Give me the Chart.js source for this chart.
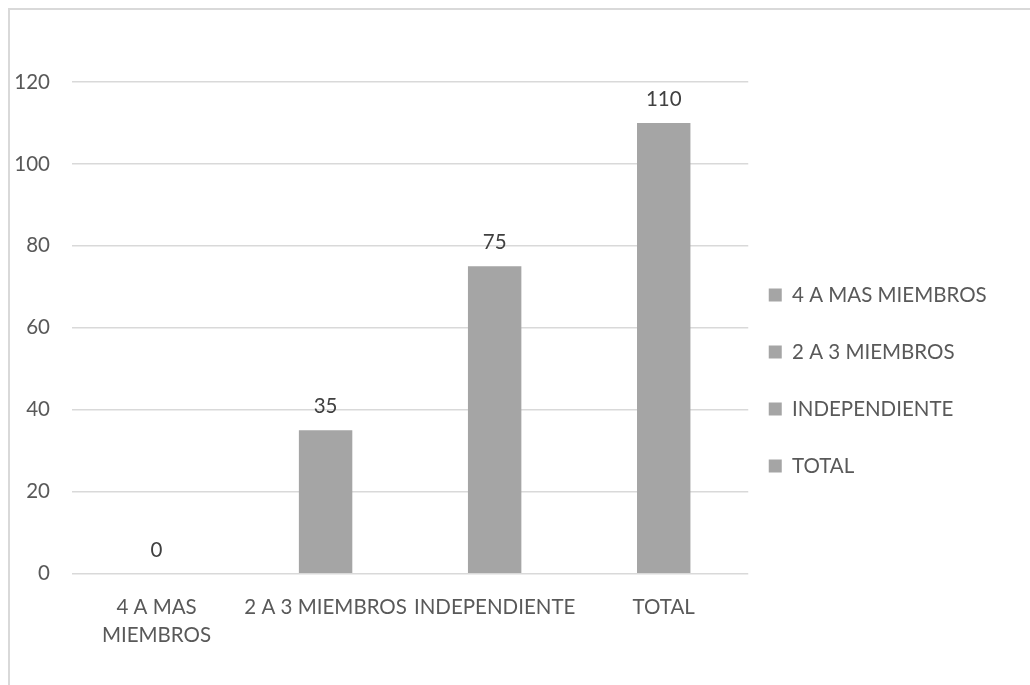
<!DOCTYPE html>
<html>
<head>
<meta charset="utf-8">
<script src="https://cdn.jsdelivr.net/npm/chart.js@4/dist/chart.umd.min.js"></script>
<style>
  html, body { margin: 0; padding: 0; background: #ffffff; }
  #wrap { position: relative; width: 1030px; height: 685px; }
  #frame {
    position: absolute; left: 8px; top: 8px; right: 0; bottom: 0;
    border-left: 2px solid #d9d9d9; border-top: 2px solid #d9d9d9;
  }
  #chart { position: absolute; left: 0; top: 0; }
</style>
</head>
<body>
<div id="wrap">
  <div id="frame"></div>
  <canvas id="chart" width="1030" height="685"></canvas>
</div>
<script>
// --- data ---
const categories = ['4 A MAS MIEMBROS', '2 A 3 MIEMBROS', 'INDEPENDIENTE', 'TOTAL'];
const tickLabels = [['4 A MAS', 'MIEMBROS'], '2 A 3 MIEMBROS', 'INDEPENDIENTE', 'TOTAL'];
const values = [0, 35, 75, 110];
const yTicks = [0, 20, 40, 60, 80, 100, 120];

const barColor = '#a5a5a5';
const textColor = '#595959';
const fontFamily = 'Lato, "Open Sans", sans-serif';
const fontSize = 20.5;

// value labels above each bar (no datalabels plugin available)
const barValueLabels = {
    id: 'barValueLabels',
    afterDatasetsDraw(chart) {
        const ctx = chart.ctx;
        const meta = chart.getDatasetMeta(0);
        ctx.save();
        ctx.fillStyle = '#404040';
        ctx.font = fontSize + 'px ' + fontFamily;
        ctx.textAlign = 'center';
        ctx.textBaseline = 'alphabetic';
        meta.data.forEach((bar, i) => {
            ctx.fillText(String(values[i]), bar.x, bar.y - 17);
        });
        ctx.restore();
    }
};

// move the legend block to where Excel put it
const legendNudge = {
    id: 'legendNudge',
    afterLayout(chart) {
        const lg = chart.legend;
        lg.left -= 16;
        lg.top += 9; lg.bottom += 9;
    }
};

Chart.defaults.font.family = fontFamily;
Chart.defaults.font.size = fontSize;
Chart.defaults.color = textColor;

new Chart(document.getElementById('chart').getContext('2d'), {
    type: 'bar',
    data: {
        labels: tickLabels,
        datasets: [{
            data: values,
            backgroundColor: barColor,
            borderWidth: 0,
            categoryPercentage: 1,
            barPercentage: 0.316
        }]
    },
    options: {
        responsive: false,
        animation: false,
        layout: { padding: { left: 14, top: 82, right: 37, bottom: 24 } },
        plugins: {
            tooltip: { enabled: false },
            legend: {
                position: 'right',
                labels: {
                    boxWidth: 13,
                    boxHeight: 13,
                    padding: 36.5,
                    color: textColor,
                    generateLabels: () => categories.map((c, i) => ({
                        text: c,
                        fillStyle: barColor,
                        strokeStyle: barColor,
                        fontColor: textColor,
                        lineWidth: 0,
                        hidden: false,
                        index: i
                    }))
                }
            }
        },
        scales: {
            x: {
                grid: { display: false },
                border: { display: false },
                ticks: {
                    padding: 12,
                    maxRotation: 0,
                    autoSkip: false,
                    font: { lineHeight: 1.35 }
                }
            },
            y: {
                min: 0,
                max: 120,
                afterBuildTicks: (scale) => { scale.ticks = yTicks.map(v => ({ value: v })); },
                afterFit: (scale) => { scale.width = 58; },
                grid: { color: '#d9d9d9', lineWidth: 1.5, drawTicks: false },
                border: { display: false },
                ticks: { padding: 22 }
            }
        }
    },
    plugins: [barValueLabels, legendNudge]
});
</script>
</body>
</html>
